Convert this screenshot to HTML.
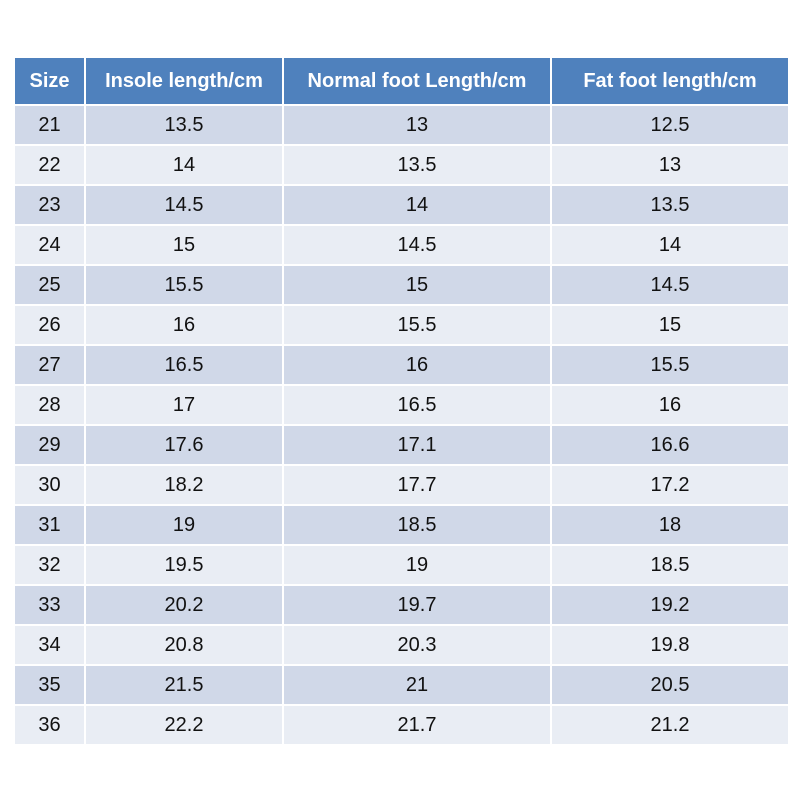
<!DOCTYPE html>
<html><head><style>
body{margin:0;background:#fff;width:800px;height:800px;position:relative;font-family:"Liberation Sans",Arial,sans-serif;}
table{position:absolute;left:13px;top:56px;border-collapse:collapse;table-layout:fixed;}
td,th{border:2px solid #fff;text-align:center;padding:0;font-size:20px;color:#111;}
th{background:#4f81bd;color:#fff;font-weight:bold;height:46px;font-size:20px;}
td{height:38px;}
tr:nth-child(odd) td{background:#d0d8e8;}
tr:nth-child(even) td{background:#e9edf4;}
</style></head><body>
<table>
<colgroup><col style="width:71px"><col style="width:198px"><col style="width:268px"><col style="width:238px"></colgroup>
<thead><tr><th>Size</th><th>Insole length/cm</th><th>Normal foot Length/cm</th><th>Fat foot length/cm</th></tr></thead>
<tbody>
<tr><td>21</td><td>13.5</td><td>13</td><td>12.5</td></tr>
<tr><td>22</td><td>14</td><td>13.5</td><td>13</td></tr>
<tr><td>23</td><td>14.5</td><td>14</td><td>13.5</td></tr>
<tr><td>24</td><td>15</td><td>14.5</td><td>14</td></tr>
<tr><td>25</td><td>15.5</td><td>15</td><td>14.5</td></tr>
<tr><td>26</td><td>16</td><td>15.5</td><td>15</td></tr>
<tr><td>27</td><td>16.5</td><td>16</td><td>15.5</td></tr>
<tr><td>28</td><td>17</td><td>16.5</td><td>16</td></tr>
<tr><td>29</td><td>17.6</td><td>17.1</td><td>16.6</td></tr>
<tr><td>30</td><td>18.2</td><td>17.7</td><td>17.2</td></tr>
<tr><td>31</td><td>19</td><td>18.5</td><td>18</td></tr>
<tr><td>32</td><td>19.5</td><td>19</td><td>18.5</td></tr>
<tr><td>33</td><td>20.2</td><td>19.7</td><td>19.2</td></tr>
<tr><td>34</td><td>20.8</td><td>20.3</td><td>19.8</td></tr>
<tr><td>35</td><td>21.5</td><td>21</td><td>20.5</td></tr>
<tr><td>36</td><td>22.2</td><td>21.7</td><td>21.2</td></tr>
</tbody></table>
</body></html>
